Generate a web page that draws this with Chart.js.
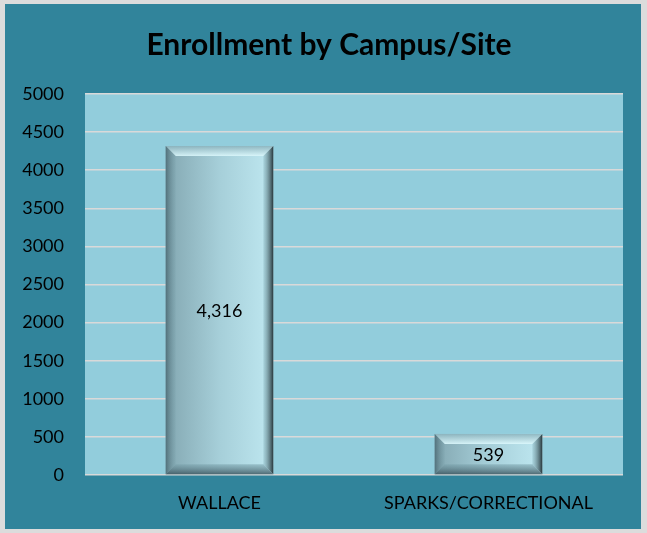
<!DOCTYPE html>
<html>
<head>
<meta charset="utf-8">
<script src="https://cdn.jsdelivr.net/npm/chart.js@4.4.1/dist/chart.umd.min.js"></script>
<style>
  html, body { margin: 0; padding: 0; background: #d9d9d9; }
  #wrap { width: 647px; height: 533px; }
</style>
</head>
<body>
<div id="wrap"><canvas id="chart" width="647" height="533"></canvas></div>
<script>
// data
const campuses = ["WALLACE", "SPARKS/CORRECTIONAL"];
const enrollment = [4316, 539];
const chartTitle = "Enrollment by Campus/Site";

const FONT = "Lato, 'Liberation Sans', sans-serif";

// panel + plot background
const bgPlugin = {
  id: "bg",
  beforeDraw(chart){
    const c = chart.ctx, a = chart.chartArea;
    c.save();
    c.fillStyle = "#dcdcdc";
    c.fillRect(0, 0, chart.width, chart.height);
    c.fillStyle = "#31849b";
    c.fillRect(5, 4, chart.width - 11, chart.height - 8);
    c.fillStyle = "#92cddc";
    c.fillRect(a.left, a.top, a.right - a.left, a.bottom - a.top);
    c.restore();
  }
};

// bevel look on the bars + value labels in the middle
const bevelPlugin = {
  id: "bevel",
  afterDatasetsDraw(chart){
    const c = chart.ctx;
    const meta = chart.getDatasetMeta(0);
    meta.data.forEach((bar, i) => {
      const p = bar.getProps(["x", "y", "base", "width"], true);
      const l = p.x - p.width/2, r = p.x + p.width/2, t = p.y, b = p.base;
      const s = Math.min(10, (b - t) / 3);
      c.save();
      // body gradient, left darker -> right lighter
      const g = c.createLinearGradient(l, 0, r, 0);
      g.addColorStop(0, "#83a7b1");
      g.addColorStop(0.5, "#a6cfd9");
      g.addColorStop(1, "#bfe8f1");
      c.fillStyle = g;
      c.fillRect(l, t, r - l, b - t);
      const quad = (pts, fill) => {
        c.beginPath();
        c.moveTo(pts[0][0], pts[0][1]);
        for (let k = 1; k < pts.length; k++) c.lineTo(pts[k][0], pts[k][1]);
        c.closePath();
        c.fillStyle = fill;
        c.fill();
      };
      // top highlight
      const gt = c.createLinearGradient(0, t, 0, t + s);
      gt.addColorStop(0, "rgba(140,180,190,0.9)");
      gt.addColorStop(1, "rgba(220,248,252,0.9)");
      quad([[l,t],[r,t],[r-s,t+s],[l+s,t+s]], gt);
      // bottom shade
      const gb = c.createLinearGradient(0, b - s, 0, b);
      gb.addColorStop(0, "rgba(120,160,170,0.5)");
      gb.addColorStop(1, "rgba(60,85,95,0.85)");
      quad([[l,b],[r,b],[r-s,b-s],[l+s,b-s]], gb);
      // left edge
      const gl = c.createLinearGradient(l, 0, l + s, 0);
      gl.addColorStop(0, "rgba(70,100,110,0.8)");
      gl.addColorStop(1, "rgba(120,160,170,0.3)");
      quad([[l,t],[l+s,t+s],[l+s,b-s],[l,b]], gl);
      // right edge
      const gr = c.createLinearGradient(r - s, 0, r, 0);
      gr.addColorStop(0, "rgba(140,185,195,0.4)");
      gr.addColorStop(1, "rgba(30,45,50,0.95)");
      quad([[r,t],[r-s,t+s],[r-s,b-s],[r,b]], gr);
      // value label
      c.fillStyle = "#000";
      c.font = "18px " + FONT;
      c.textAlign = "center";
      c.textBaseline = "middle";
      c.fillText(enrollment[i].toLocaleString("en-US"), p.x, (t + b) / 2 + 1);
      c.restore();
    });
  }
};

new Chart(document.getElementById("chart"), {
  type: "bar",
  data: {
    labels: campuses,
    datasets: [{
      data: enrollment,
      backgroundColor: "rgba(0,0,0,0)",
      borderWidth: 0,
      barPercentage: 0.4,
      categoryPercentage: 1
    }]
  },
  options: {
    responsive: false,
    animation: false,
    layout: { padding: { left: 11, right: 0, top: 0, bottom: 0 } },
    plugins: {
      legend: { display: false },
      tooltip: { enabled: false },
      title: {
        display: true,
        text: chartTitle,
        color: "#000",
        font: { family: FONT, size: 30, weight: "bold" },
        padding: { top: 27, bottom: 31 }
      }
    },
    scales: {
      x: {
        afterFit(scale){ scale.height = 58; },
        grid: { display: false, drawTicks: false },
        border: { display: false },
        ticks: { color: "#000", font: { family: FONT, size: 18 }, padding: 17 }
      },
      y: {
        min: 0, max: 5000,
        afterFit(scale){ scale.width = 74; },
        grid: { color: "#d9d9d9", lineWidth: 1.5, drawTicks: false },
        border: { display: false },
        ticks: {
          stepSize: 500, color: "#000", font: { family: FONT, size: 18 }, padding: 21,
          callback: (v) => String(v)
        }
      },
      // empty right-hand spacer so the plot stops short of the panel edge
      yRight: {
        position: "right",
        min: 0, max: 5000,
        afterFit(scale){ scale.width = 24; },
        grid: { display: false, drawTicks: false },
        border: { display: false },
        ticks: { display: false }
      }
    }
  },
  plugins: [bgPlugin, bevelPlugin]
});
</script>
</body>
</html>
